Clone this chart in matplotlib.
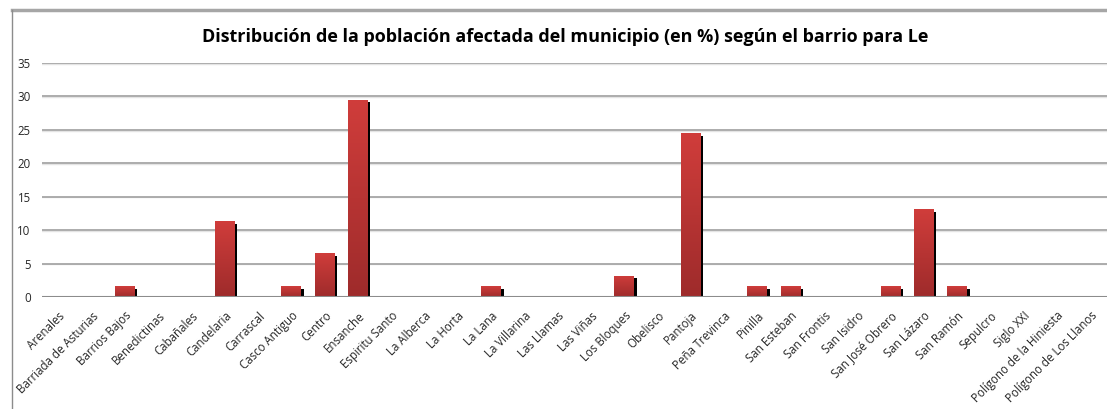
import numpy as np
import matplotlib
matplotlib.use('Agg')
import matplotlib.pyplot as plt
from matplotlib import patheffects
from matplotlib.lines import Line2D

plt.rcParams['font.family'] = ['Open Sans', 'DejaVu Sans']

barrios = ['Arenales', 'Barriada de Asturias', 'Barrios Bajos', 'Benedictinas',
           'Cabañales', 'Candelaria', 'Carrascal', 'Casco Antiguo', 'Centro',
           'Ensanche', 'Espiritu Santo', 'La Alberca', 'La Horta', 'La Lana',
           'La Villarina', 'Las Llamas', 'Las Viñas', 'Los Bloques', 'Obelisco',
           'Pantoja', 'Peña Trevinca', 'Pinilla', 'San Esteban', 'San Frontis',
           'San Isidro', 'San José Obrero', 'San Lázaro', 'San Ramón', 'Sepulcro',
           'Siglo XXI', 'Polígono de la Hiniesta', 'Polígono de Los Llanos']
porcentaje = [0, 0, 1.6, 0, 0, 11.3, 0, 1.6, 6.5, 29.5, 0, 0, 0, 1.6, 0, 0, 0,
              3.2, 0, 24.5, 0, 1.6, 1.6, 0, 0, 1.6, 13.1, 1.6, 0, 0, 0, 0]
yticks = [0, 5, 10, 15, 20, 25, 30, 35]

fig = plt.figure(figsize=(11.07, 4.09), dpi=100)

# marco del grafico
fig.add_artist(Line2D([0.011, 1.0], [0.975, 0.975], transform=fig.transFigure,
                      color='#a6a6a6', lw=2.5))
fig.add_artist(Line2D([0.011, 0.011], [0.0, 0.975], transform=fig.transFigure,
                      color='#8c8c8c', lw=1))

ax = fig.add_axes([0.0377, 0.274, 0.9623, 0.572])
x = np.arange(len(barrios))
ax.set_xlim(-0.5, len(barrios) - 0.5)
ax.set_ylim(0, 35)

for t in yticks[1:]:
    ax.axhline(t - 0.12, color='#e4e4e4', lw=1.0, zorder=0.8)
    ax.axhline(t, color='#a6a6a6', lw=1.3, zorder=1)
ax.axhline(0, color='#8c8c8c', lw=1.5, zorder=4)

bars = ax.bar(x, porcentaje, width=0.6, color='#c03535', zorder=2)
grad = np.linspace(0, 1, 256).reshape(-1, 1)
cmap = matplotlib.colors.LinearSegmentedColormap.from_list('rojo', ['#9e2b2b', '#d03d3b'])
for b, v in zip(bars, porcentaje):
    if v <= 0:
        continue
    b.set_path_effects([patheffects.SimplePatchShadow(offset=(1.8, -1.8), shadow_rgbFace='black', alpha=1),
                        patheffects.Normal()])
    im = ax.imshow(grad, cmap=cmap, aspect='auto', origin='lower', zorder=3,
                   extent=(b.get_x(), b.get_x() + b.get_width(), 0, v))
    im.set_clip_path(b)

for s in ax.spines.values():
    s.set_visible(False)
ax.set_yticks(yticks)
ax.set_xticks(x)
ax.set_xticklabels(barrios, rotation=45, ha='right', rotation_mode='anchor',
                   fontsize=8.3, color='#262626')
ax.tick_params(axis='both', length=0, labelsize=8.3, colors='#262626')
ax.tick_params(axis='x', pad=9)
ax.tick_params(axis='y', pad=8)

fig.text(0.511, 0.91, 'Distribución de la población afectada del municipio (en %) según el barrio para Le',
         ha='center', va='center', fontsize=13, fontweight='bold', color='black')

fig.savefig('out.png', dpi=100)
